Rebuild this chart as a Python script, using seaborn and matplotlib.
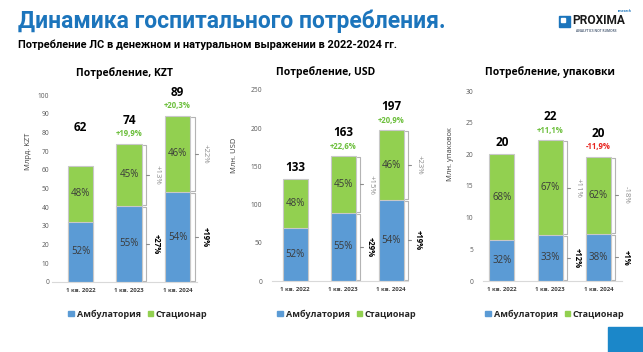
import numpy as np
import pandas as pd
import seaborn as sns
import matplotlib.pyplot as plt
from matplotlib.patches import Rectangle

sns.set_theme(style='white')
plt.rcParams['font.family'] = ['Open Sans', 'DejaVu Sans']

# ---- data ----
periods = ['1 кв. 2022', '1 кв. 2023', '1 кв. 2024']

kzt_total = [62, 74, 89]
kzt_amb_share = [52, 55, 54]
kzt_growth = ['', '+19,9%', '+20,3%']
kzt_stat_chg = ['', '+13%', '+22%']
kzt_amb_chg = ['', '+27%', '+19%']

usd_total = [133, 163, 197]
usd_amb_share = [52, 55, 54]
usd_growth = ['', '+22,6%', '+20,9%']
usd_stat_chg = ['', '+15%', '+23%']
usd_amb_chg = ['', '+29%', '+19%']

pack_total = [20.0, 22.2, 19.6]
pack_amb_share = [32, 33, 38]
pack_growth = ['', '+11,1%', '-11,9%']
pack_stat_chg = ['', '+11%', '-18%']
pack_amb_chg = ['', '+12%', '+1%']

BLUE = '#5b9bd5'
GREEN = '#92d050'
EDGE = '#c8c8c8'
W = 0.52
FW, FH = 643, 352

fig = plt.figure(figsize=(6.43, 3.52), dpi=100)


def px_rect(l, r, top, bottom):
    return [l / FW, 1 - bottom / FH, (r - l) / FW, (bottom - top) / FH]


def draw_panel(total, amb_share, growth, stat_chg, amb_chg, cfg):
    ax = fig.add_axes(px_rect(*cfg['box']))
    total = np.asarray(total, float)
    amb = total * np.asarray(amb_share) / 100
    df = pd.DataFrame({'period': periods, 'total': total, 'amb': amb})

    sns.barplot(data=df, x='period', y='total', color=GREEN, width=W, saturation=1,
                edgecolor=EDGE, linewidth=0.8, errorbar=None, ax=ax)
    sns.barplot(data=df, x='period', y='amb', color=BLUE, width=W, saturation=1,
                edgecolor=EDGE, linewidth=0.8, errorbar=None, ax=ax)

    ax.set_xlim(*cfg['xlim'])
    ax.set_ylim(0, cfg['ymax'])
    ax.set_yticks(np.arange(0, cfg['ymax'] + 1, cfg['ystep']))
    ax.set_xlabel('')
    ax.set_ylabel(cfg['ylabel'], fontsize=5.5, color='#404040')
    ax.yaxis.set_label_coords(*cfg['ylab_pos'])
    ax.tick_params(axis='y', length=0, pad=cfg['ypad'], labelsize=4.8, labelcolor='#595959')
    ax.tick_params(axis='x', length=0, pad=4, labelsize=4.3, labelcolor='#404040')
    for t in ax.get_xticklabels():
        t.set_fontweight('bold')
    for s in ['left', 'right', 'top']:
        ax.spines[s].set_visible(False)
    ax.spines['bottom'].set_color('#d9d9d9')
    ax.spines['bottom'].set_linewidth(0.8)

    ppu = (cfg['box'][1] - cfg['box'][0]) / (cfg['xlim'][1] - cfg['xlim'][0])
    ppy = (cfg['box'][3] - cfg['box'][2]) / cfg['ymax']

    for i in range(len(periods)):
        # share labels inside the segments
        ax.text(i, amb[i] / 2, f'{amb_share[i]}%', ha='center', va='center',
                fontsize=7, color='#3a3a3a')
        ax.text(i, (amb[i] + total[i]) / 2, f'{100 - amb_share[i]}%', ha='center',
                va='center', fontsize=7, color='#3a3a3a')
        # totals and growth
        off = 23.5 if growth[i] else cfg['first_off']
        ax.annotate(f'{total[i]:.0f}', (i, total[i]), xytext=(0, off),
                    textcoords='offset pixels', ha='center', va='center',
                    fontsize=8.5, fontweight='bold', color='black')
        if growth[i]:
            gcol = '#e8251f' if growth[i].startswith('-') else '#6cbf3c'
            ax.annotate(growth[i], (i, total[i]), xytext=(0, 10),
                        textcoords='offset pixels', ha='center', va='center',
                        fontsize=5.6, fontweight='bold', color=gcol)
        # brackets with change labels
        if stat_chg[i]:
            xr = i + W / 2
            for y0, y1, lab, col, fw in [(0, amb[i], amb_chg[i], 'black', 'bold'),
                                         (amb[i], total[i], stat_chg[i], '#8c8c8c', 'normal')]:
                g = 1.0 / ppy
                xs = xr + np.array([1, 4.5, 4.5, 1]) / ppu
                ax.plot(xs, [y0 + g, y0 + g, y1 - g, y1 - g], color='#b4b4b4', lw=0.8,
                        solid_joinstyle='round', clip_on=False)
                ym = (y0 + y1) / 2
                ax.plot(xr + np.array([4.5, 7.5]) / ppu, [ym, ym], color='#8c8c8c', lw=0.8,
                        clip_on=False)
                ax.text(xr + 15 / ppu, ym, lab, rotation=-90, ha='center', va='center',
                        fontsize=5.6, fontweight=fw, color=col)

    fig.text(cfg['title_xy'][0] / FW, 1 - cfg['title_xy'][1] / FH, cfg['title'],
             ha='center', va='center', fontsize=7.5, fontweight='bold', color='black')

    handles = [Rectangle((0, 0), 1, 1, color=BLUE), Rectangle((0, 0), 1, 1, color=GREEN)]
    fig.legend(handles, ['Амбулатория', 'Стационар'], loc='center', ncol=2,
               bbox_to_anchor=(cfg['leg_x'] / FW, 1 - 314 / FH), frameon=False,
               handlelength=0.6, handleheight=0.6, handletextpad=0.3, columnspacing=0.8,
               prop={'size': 6.5, 'weight': 'bold'})
    return ax


draw_panel(kzt_total, kzt_amb_share, kzt_growth, kzt_stat_chg, kzt_amb_chg,
           dict(box=(52, 197, 95, 282), xlim=(-0.59, 2.4), ymax=100, ystep=10,
                ylabel='Млрд. KZT', ylab_pos=(-0.14, 0.7), ypad=2, first_off=39,
                title='Потребление, KZT', title_xy=(125, 73), leg_x=138))
draw_panel(usd_total, usd_amb_share, usd_growth, usd_stat_chg, usd_amb_chg,
           dict(box=(272, 408, 90, 281), xlim=(-0.48, 2.35), ymax=250, ystep=50,
                ylabel='Млн. USD', ylab_pos=(-0.25, 0.66), ypad=7, first_off=11.5,
                title='Потребление, USD', title_xy=(326, 72), leg_x=347))
draw_panel(pack_total, pack_amb_share, pack_growth, pack_stat_chg, pack_amb_chg,
           dict(box=(483, 622, 91, 281), xlim=(-0.39, 2.49), ymax=30, ystep=5,
                ylabel='Млн. упаковок', ylab_pos=(-0.21, 0.67), ypad=7, first_off=11.5,
                title='Потребление, упаковки', title_xy=(550, 72), leg_x=555))

# headings
fig.text(18 / FW, 1 - 21 / FH, 'Динамика госпитального потребления.', ha='left', va='center',
         fontsize=16.5, fontweight='bold', color='#1c75bc', family=['Roboto', 'DejaVu Sans'])
fig.text(18 / FW, 1 - 45 / FH,
         'Потребление ЛС в денежном и натуральном выражении в 2022-2024 гг.',
         ha='left', va='center', fontsize=7.9, fontweight='bold', color='black',
         family=['Roboto', 'DejaVu Sans'])

# logo
fig.patches.append(Rectangle((559 / FW, 1 - 27 / FH), 11 / FW, 11 / FH,
                             transform=fig.transFigure, color='#1c75bc'))
fig.patches.append(Rectangle((561 / FW, 1 - 22 / FH), 4 / FW, 4 / FH,
                             transform=fig.transFigure, color='white'))
fig.text(572 / FW, 1 - 21 / FH, 'PROXIMA', ha='left', va='center', fontsize=8.6,
         fontweight='bold', color='#1a1a1a', family=['Roboto', 'DejaVu Sans'])
fig.text(632 / FW, 1 - 11 / FH, 'research', ha='right', va='center', fontsize=2.3,
         fontweight='bold', color='#1c75bc')
fig.text(596 / FW, 1 - 31 / FH, 'ANALYTICS NOT RUMORS', ha='center', va='center',
         fontsize=2.3, fontweight='bold', color='#5a6a80')

# corner block
fig.patches.append(Rectangle((608 / FW, 0), 35 / FW, 25 / FH,
                             transform=fig.transFigure, color='#1b87c9'))

fig.savefig('out.png', dpi=100, facecolor='white')
